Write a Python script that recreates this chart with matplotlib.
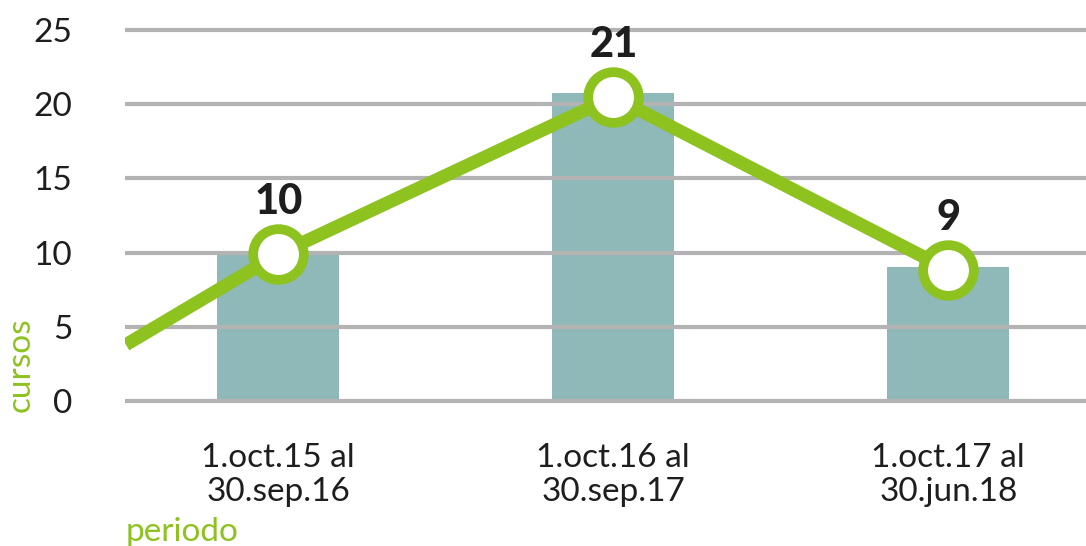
import matplotlib.pyplot as plt
import numpy as np

plt.rcParams['font.family'] = ['Lato', 'DejaVu Sans']

periodos = ['1.oct.15 al\n30.sep.16', '1.oct.16 al\n30.sep.17', '1.oct.17 al\n30.jun.18']
barras = [10, 20.75, 9]
cursos = [10, 21, 9]
linea = [9.9, 20.5, 8.85]
# tramo de entrada de la linea (antes del primer periodo)
linea_inicio_x = -0.455
linea_inicio_y = 3.8
yticks = [0, 5, 10, 15, 20, 25]

verde = '#8DC21F'
barra_color = '#8FB9B8'
gris = '#B3B3B3'
texto = '#1E1E1E'

fig = plt.figure(figsize=(10.86, 5.46), dpi=100)
ax = fig.add_axes([0.115, 0.2573, 0.885, 0.696])

x = np.arange(len(periodos))
ax.bar(x, barras, width=0.364, color=barra_color, zorder=1)
for v in yticks:
    ax.axhline(v, color=gris, lw=3, zorder=2)

lx = [linea_inicio_x] + list(x)
ly = [linea_inicio_y] + linea
ax.plot(lx, ly, color=verde, lw=9.5, solid_capstyle='butt', solid_joinstyle='miter', zorder=3)
ax.plot(x, linea, 'o', ms=36.5, mfc='white', mec=verde, mew=7, zorder=4)

for xi, yi, c in zip(x, linea, cursos):
    ax.text(xi, yi + 3.5, str(c), ha='center', va='center', fontsize=30,
            fontweight='black', color=texto, zorder=5)

ax.set_xlim(-0.458, 2.411)
ax.set_ylim(-0.3, 25.3)
ax.set_yticks(yticks)
ax.set_yticklabels([str(v) for v in yticks], fontsize=24, color=texto)
ax.set_xticks(x)
ax.set_xticklabels(periodos, fontsize=24, color=texto, linespacing=1.15)
ax.tick_params(length=0)
ax.tick_params(axis='y', pad=38)
ax.tick_params(axis='x', pad=27)
for s in ax.spines.values():
    s.set_visible(False)

fig.text(0.019, 0.332, 'cursos', rotation=90, ha='center', va='center', fontsize=24, color=verde)
fig.text(0.116, 0.026, 'periodo', ha='left', va='center', fontsize=24, color=verde)

fig.savefig('out.png', dpi=100)
